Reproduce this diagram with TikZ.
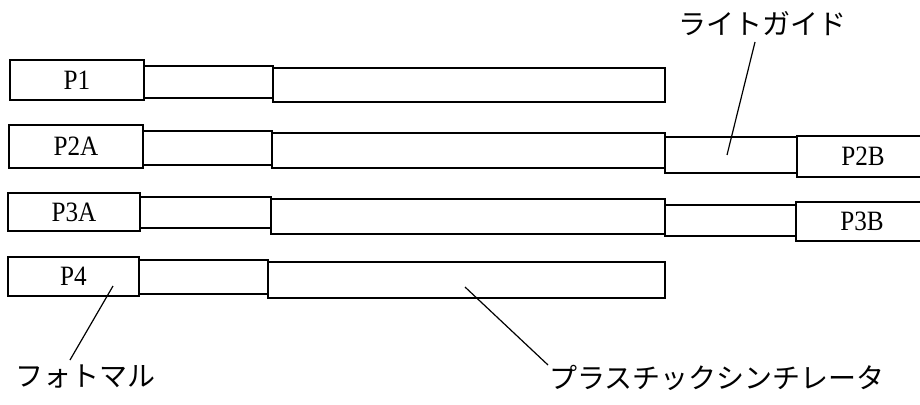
\documentclass[tikz,border=0pt]{standalone}
\usepackage{fontspec}
\setmainfont{Liberation Serif}[FakeStretch=0.9]
\newfontfamily\jpfont{Noto Sans CJK JP}
\begin{document}
\begin{tikzpicture}[x=1pt,y=-1pt,
  box/.style={draw, line width=1.3pt, inner sep=0pt, outer sep=0pt, anchor=north west, font=\fontsize{28}{30}\selectfont},
  jplabel/.style={font=\jpfont\fontsize{28}{30}\selectfont, inner sep=0pt},
  leader/.style={line width=1.2pt}]
\clip (0,0) rectangle (920,404);
\fill[white] (0,0) rectangle (920,404);
% row 1
\node[box, minimum width=134pt, minimum height=40pt] (p1) at (10,60) {P1};
\node[box, minimum width=129pt, minimum height=32pt] (lg1) at (144,66) {};
\node[box, minimum width=392pt, minimum height=34pt] (sc1) at (273,68) {};
% row 2
\node[box, minimum width=134pt, minimum height=43pt] (p2a) at (9,125) {P2A};
\node[box, minimum width=129pt, minimum height=34pt] (lg2a) at (143,131) {};
\node[box, minimum width=393pt, minimum height=35pt] (sc2) at (272,133) {};
\node[box, minimum width=132pt, minimum height=36pt] (lg2b) at (665,137) {};
\node[box, minimum width=132pt, minimum height=41pt] (p2b) at (797,136) {P2B};
% row 3
\node[box, minimum width=132pt, minimum height=38pt] (p3a) at (8,193) {P3A};
\node[box, minimum width=131pt, minimum height=31pt] (lg3a) at (140,197) {};
\node[box, minimum width=394pt, minimum height=35pt] (sc3) at (271,199) {};
\node[box, minimum width=131pt, minimum height=31pt] (lg3b) at (665,205) {};
\node[box, minimum width=132pt, minimum height=39pt] (p3b) at (796,202) {P3B};
% row 4
\node[box, minimum width=131pt, minimum height=39pt] (p4) at (8,257) {P4};
\node[box, minimum width=129pt, minimum height=34pt] (lg4) at (139,260) {};
\node[box, minimum width=397pt, minimum height=36pt] (sc4) at (268,262) {};
% labels
\node[jplabel] (lgl) at (762,24) {ライトガイド};
\node[jplabel] (pml) at (85,377) {フォトマル};
\node[jplabel] (scl) at (717,378) {プラスチックシンチレータ};
% leader lines
\coordinate (lgs) at (755,42);
\coordinate (lgt) at (727,155);
\coordinate (pms) at (70,360);
\coordinate (pmt) at (113,286);
\coordinate (scs) at (548,365);
\coordinate (sct) at (465,287);
\draw[leader] (lgs) -- (lgt);
\draw[leader] (pms) -- (pmt);
\draw[leader] (scs) -- (sct);
\end{tikzpicture}
\end{document}
